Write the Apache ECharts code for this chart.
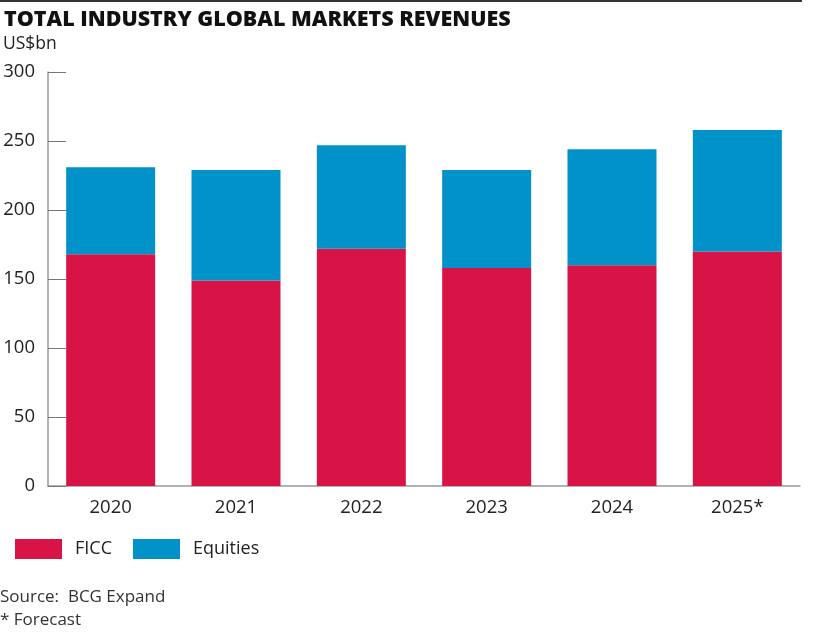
<!DOCTYPE html>
<html>
<head>
<meta charset="utf-8">
<script src="https://cdn.jsdelivr.net/npm/echarts@6/dist/echarts.min.js"></script>
<style>
html,body{margin:0;padding:0;background:#fff;}
#chart{width:817px;height:633px;}
</style>
</head>
<body>
<div id="chart"></div>
<script>
var categories = ['2020', '2021', '2022', '2023', '2024', '2025*'];
var ficc = [168, 149, 172, 158, 160, 170];
var equities = [63, 80, 75, 71, 84, 88];
var yTicks = [0, 50, 100, 150, 200, 250, 300];

var FONT = '"Open Sans", "Noto Sans", sans-serif';
var chart = echarts.init(document.getElementById('chart'));
chart.setOption({
  animation: false,
  backgroundColor: '#fff',
  title: {
    text: 'TOTAL INDUSTRY GLOBAL MARKETS REVENUES',
    left: -1, top: 4,
    textStyle: { fontFamily: FONT, fontWeight: 800, fontSize: 21.5, color: '#111' }
  },
  graphic: [
    { type: 'line', shape: { x1: 0, y1: 1, x2: 802, y2: 1 }, style: { stroke: '#333', lineWidth: 2 } },
    { type: 'text', left: 3, top: 35, style: { text: 'US$bn', font: '17.5px ' + FONT, fill: '#222' } },
    { type: 'text', left: 0, top: 589, style: { text: 'Source:  BCG Expand', font: '17px ' + FONT, fill: '#333' } },
    { type: 'text', left: 0, top: 612, style: { text: '* Forecast', font: '17px ' + FONT, fill: '#333' } }
  ],
  legend: {
    left: 10, top: 534,
    itemWidth: 47, itemHeight: 20, itemGap: 21,
    textStyle: { fontFamily: FONT, fontSize: 18, color: '#222', padding: [0, 0, 0, 8] },
    data: [{ name: 'FICC', icon: 'rect' }, { name: 'Equities', icon: 'rect' }]
  },
  grid: { left: 48, right: 17, top: 72, bottom: 147, containLabel: false },
  xAxis: {
    type: 'category',
    data: categories,
    axisLine: { show: true, lineStyle: { color: '#999', width: 1.5 } },
    axisTick: { show: false },
    axisLabel: { fontFamily: FONT, fontSize: 18.5, color: '#222', margin: 12 }
  },
  yAxis: {
    type: 'value',
    min: yTicks[0], max: yTicks[yTicks.length - 1], interval: 50,
    axisLine: { show: true, lineStyle: { color: '#999', width: 1.5 } },
    axisTick: { show: true, inside: true, length: 18, lineStyle: { color: '#777' } },
    splitLine: { show: false },
    axisLabel: { fontFamily: FONT, fontSize: 18.5, color: '#222', margin: 13 }
  },
  series: [
    { name: 'FICC', type: 'bar', stack: 'total', data: ficc, barCategoryGap: '29%', itemStyle: { color: '#D71445' } },
    { name: 'Equities', type: 'bar', stack: 'total', data: equities, itemStyle: { color: '#0092C8' } }
  ]
});
</script>
</body>
</html>
